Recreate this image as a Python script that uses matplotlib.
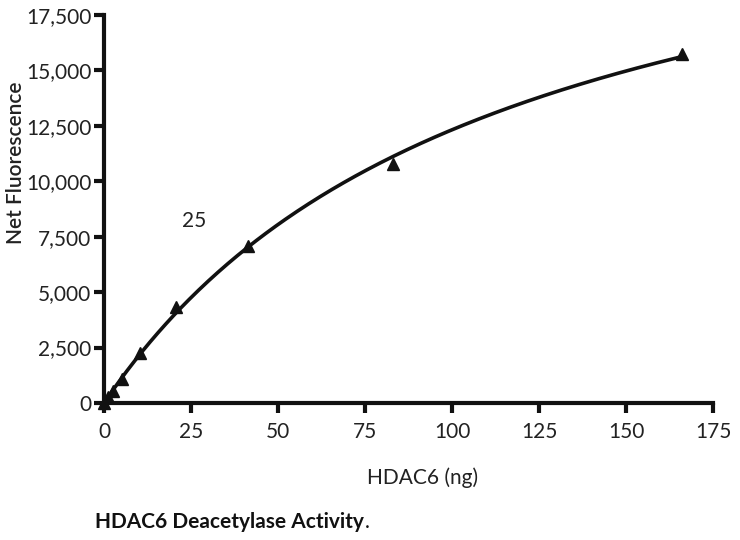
import numpy as np
import matplotlib.pyplot as plt

plt.rcParams['font.family'] = ['Lato', 'DejaVu Sans']

# HDAC6 amount (ng) and net fluorescence
hdac6_ng = [0, 1.3, 2.6, 5.2, 10.4, 20.8, 41.5, 83, 166]
fluor = [0, 250, 550, 1100, 2250, 4350, 7100, 10800, 15750]
xticks = [0, 25, 50, 75, 100, 125, 150, 175]
yticks = [0, 2500, 5000, 7500, 10000, 12500, 15000, 17500]

x = np.array(hdac6_ng)
y = np.array(fluor)

# one-site hyperbola fit y = Bmax*x/(K+x), simple grid over K
best = None
for K in np.linspace(10, 400, 3901):
    f = x / (K + x)
    bmax = (f @ y) / (f @ f)
    err = ((bmax * f - y) ** 2).sum()
    if best is None or err < best[0]:
        best = (err, K, bmax)
_, K, bmax = best
xf = np.linspace(0, x.max(), 300)
yf = bmax * xf / (K + xf)

fs = 15
fig = plt.figure(figsize=(7.4, 5.4), dpi=100)
ax = fig.add_axes([0.1405, 0.2537, 0.823, 0.7185])

ax.plot(xf, yf, color='#111111', lw=2.6, zorder=2)
ax.plot(x, y, linestyle='none', marker='^', color='#111111', ms=8, zorder=3, clip_on=False)

ax.set_xlim(0, 175)
ax.set_ylim(0, 17500)
ax.set_xticks(xticks)
ax.set_yticks(yticks)
ax.set_yticklabels([f"{v:,}" for v in yticks])

for s in ['top', 'right']:
    ax.spines[s].set_visible(False)
for s in ['left', 'bottom']:
    ax.spines[s].set_linewidth(3)
    ax.spines[s].set_color('#111111')
ax.tick_params(direction='out', length=7, width=3, color='#111111',
               labelsize=fs, labelcolor='#222222')
ax.tick_params(axis='x', pad=7)
ax.tick_params(axis='y', pad=2)

# labels placed as in the original figure (y label sits above axis centre)
fig.text(16 / 740, 1 - 163 / 540, "Net Fluorescence", fontsize=fs, fontweight='semibold',
         color='#222222', rotation=90, ha='center', va='center')
fig.text(423 / 740, 1 - 478 / 540, "HDAC6 (ng)", fontsize=fs, color='#222222',
         ha='center', va='center')

ax.text(26, 8200, "25", fontsize=fs, color='#222222', ha='center', va='center')

cap = fig.text(95 / 740, 1 - 522 / 540, "HDAC6 Deacetylase Activity", fontsize=fs,
               fontweight='bold', color='#111111', va='center')
fig.canvas.draw()
bb = cap.get_window_extent()
fig.text(bb.x1 / 740 + 0.001, 1 - 522 / 540, ".", fontsize=fs, color='#111111', va='center')

fig.savefig("out.png", dpi=100)
